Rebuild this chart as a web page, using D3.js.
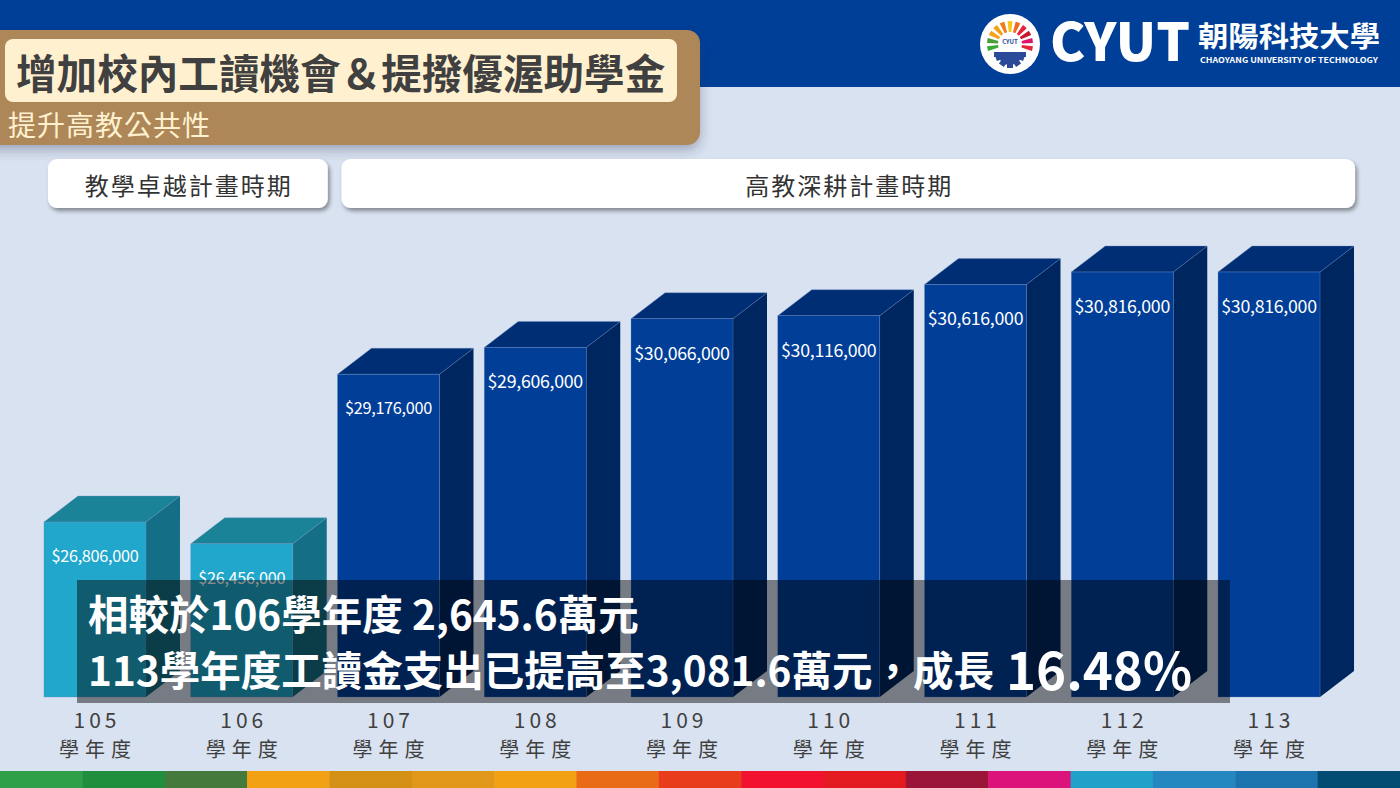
<!DOCTYPE html>
<html>
<head>
<meta charset="utf-8">
<script src="https://cdn.jsdelivr.net/npm/d3@7"></script>
<style>
    body { margin: 0; background: #d9e2f0; }
    #chart-area { width: 1400px; height: 788px; }
    text { font-family: "Noto Sans CJK TC", "Noto Sans", sans-serif; }
</style>
</head>
<body>
<div id="chart-area"></div>
<script>

// school years on the x axis
const years = ["105", "106", "107", "108", "109", "110", "111", "112", "113"];
// work-study spending per year (NT$)
const amounts = [26806000, 26456000, 29176000, 29606000, 30066000, 30116000, 30616000, 30816000, 30816000];
// which funding period each year belongs to
const periodOf = ["教學卓越計畫時期", "教學卓越計畫時期", "高教深耕計畫時期", "高教深耕計畫時期", "高教深耕計畫時期",
    "高教深耕計畫時期", "高教深耕計畫時期", "高教深耕計畫時期", "高教深耕計畫時期"];
const periods = ["教學卓越計畫時期", "高教深耕計畫時期"];
const yearSuffix = "學年度";

const titleText = "增加校內工讀機會＆提撥優渥助學金";
const subtitleText = "提升高教公共性";
const noteLine1 = "相較於106學年度 2,645.6萬元";
const noteLine2 = "113學年度工讀金支出已提高至3,081.6萬元，成長";
const noteGrowth = "16.48%";

const stripeColors = ['#2fa048', '#1f8f3e', '#447a3c', '#f2a114', '#d48f15', '#e0971a', '#f2a114', '#e96b16',
    '#e83c1c', '#f2112f', '#e31a1f', '#9b1538', '#dc137b', '#1fa1c9', '#2487bf', '#1b74ad', '#024c73'];


class WorkStudyVis {

    constructor(parentElement) {
        this.parentElement = parentElement;
        this.data = years.map((y, i) => ({year: y, value: amounts[i], period: periodOf[i]}));
        this.initVis();
    }

    initVis() {
        let vis = this;

        vis.width = 1400;
        vis.height = 788;

        vis.svg = d3.select("#" + vis.parentElement).append("svg")
            .attr("width", vis.width)
            .attr("height", vis.height);

        let defs = vis.svg.append("defs");
        defs.append("filter").attr("id", "boxShadow")
            .attr("x", "-10%").attr("y", "-30%").attr("width", "120%").attr("height", "170%")
            .append("feDropShadow")
            .attr("dx", 2).attr("dy", 3).attr("stdDeviation", 2)
            .attr("flood-color", "#000").attr("flood-opacity", 0.4);
        defs.append("filter").attr("id", "bigShadow")
            .attr("x", "-10%").attr("y", "-20%").attr("width", "120%").attr("height", "160%")
            .append("feDropShadow")
            .attr("dx", 0).attr("dy", 5).attr("stdDeviation", 6)
            .attr("flood-color", "#2a3550").attr("flood-opacity", 0.35);

        // background + top band
        vis.svg.append("rect").attr("width", vis.width).attr("height", vis.height).attr("fill", "#d9e2f0");
        vis.svg.append("rect").attr("width", vis.width).attr("height", 87).attr("fill", "#003f98");

        // scales
        vis.depth = {dx: 34, dy: 26};
        vis.baseY = 697;
        vis.x = d3.scaleBand()
            .domain(years)
            .range([21.6, 1342.4])
            .paddingInner(0.305)
            .paddingOuter(0.1525);
        vis.y = d3.scaleLinear()
            .domain([24000000, 32000000])
            .range([vis.baseY, vis.baseY - 8 * 62.35]);

        vis.front = d3.scaleOrdinal().domain(periods).range(["#20a7cb", "#003e98"]);
        vis.topCol = d3.scaleOrdinal().domain(periods).range(["#1a8398", "#002e74"]);
        vis.sideCol = d3.scaleOrdinal().domain(periods).range(["#146f86", "#00265f"]);

        vis.drawHeader();
        vis.drawLogo();
        vis.drawPeriods();
        vis.updateVis();
        vis.drawNote();

        // colour stripe at the bottom
        let sw = vis.width / stripeColors.length;
        vis.svg.append("g").selectAll("rect").data(stripeColors).enter().append("rect")
            .attr("x", (d, i) => i * sw).attr("y", 771)
            .attr("width", sw + 0.5).attr("height", 17)
            .attr("fill", d => d);
    }

    drawHeader() {
        let vis = this;
        let g = vis.svg.append("g");
        g.append("rect")
            .attr("x", -20).attr("y", 30).attr("width", 720).attr("height", 115).attr("rx", 13)
            .attr("fill", "#ad8759").attr("filter", "url(#bigShadow)");
        g.append("rect")
            .attr("x", 5).attr("y", 39).attr("width", 672).attr("height", 63).attr("rx", 8)
            .attr("fill", "#fff1cf");
        g.append("text").text(titleText)
            .attr("x", 16).attr("y", 71)
            .attr("dominant-baseline", "central")
            .attr("font-size", 40.6).attr("font-weight", "bold")
            .attr("fill", "#404040");
        g.append("text").text(subtitleText)
            .attr("x", 8).attr("y", 124)
            .attr("dominant-baseline", "central")
            .attr("font-size", 28).attr("letter-spacing", 1)
            .attr("fill", "#fff1cf");
    }

    drawLogo() {
        let vis = this;
        let cx = 1010, cy = 44;
        let g = vis.svg.append("g").attr("transform", "translate(" + cx + "," + cy + ")");
        g.append("circle").attr("r", 30).attr("fill", "#fff");

        // sun rays
        let rayColors = ['#3aa935', '#4c9f38', '#f6a21b', '#f2a114', '#ee7d1a', '#f9c51b', '#f06b1f',
            '#e5243b', '#c5192d', '#dd1367', '#e5243b'];
        let arc = d3.arc().innerRadius(12).outerRadius(23);
        let n = rayColors.length;
        let a0 = -Math.PI * 0.62, a1 = Math.PI * 0.62;
        let step = (a1 - a0) / n;
        g.selectAll(".ray").data(rayColors).enter().append("path")
            .attr("class", "ray")
            .attr("d", (d, i) => arc({startAngle: a0 + i * step + step * 0.2, endAngle: a0 + (i + 1) * step - step * 0.2}))
            .attr("fill", d => d);

        // gear
        let gear = g.append("g").attr("transform", "translate(0,9)");
        gear.append("path")
            .attr("d", d3.arc().innerRadius(0).outerRadius(12).startAngle(Math.PI / 2).endAngle(Math.PI * 1.5)())
            .attr("fill", "#2c4a9a");
        [-70, -35, 0, 35, 70].forEach(function (ang) {
            gear.append("rect")
                .attr("x", -3).attr("y", 9).attr("width", 6).attr("height", 6)
                .attr("transform", "rotate(" + ang + ")")
                .attr("fill", "#2c4a9a");
        });
        gear.append("rect").attr("x", -16).attr("y", -1).attr("width", 32).attr("height", 5).attr("fill", "#2c4a9a");
        g.append("text").text("CYUT")
            .attr("y", 0).attr("text-anchor", "middle")
            .attr("font-family", "Open Sans").attr("font-weight", "bold")
            .attr("font-size", 6).attr("fill", "#2c4a9a");

        vis.svg.append("text").text("CYUT")
            .attr("x", 1050).attr("y", 61)
            .attr("font-family", "Open Sans").attr("font-weight", 800)
            .attr("font-size", 52).attr("fill", "#fff")
            .attr("textLength", 140).attr("lengthAdjust", "spacingAndGlyphs");
        vis.svg.append("text").text("朝陽科技大學")
            .attr("x", 1198).attr("y", 47)
            .attr("font-size", 28).attr("font-weight", "bold").attr("fill", "#fff")
            .attr("textLength", 182).attr("lengthAdjust", "spacingAndGlyphs");
        vis.svg.append("text").text("CHAOYANG UNIVERSITY OF TECHNOLOGY")
            .attr("x", 1200).attr("y", 63)
            .attr("font-family", "Open Sans").attr("font-weight", "bold")
            .attr("font-size", 8).attr("fill", "#fff")
            .attr("textLength", 178).attr("lengthAdjust", "spacingAndGlyphs");
    }

    drawPeriods() {
        let vis = this;
        let spans = periods.map(function (p) {
            let ys = vis.data.filter(d => d.period === p).map(d => d.year);
            return {
                name: p,
                x0: vis.x(ys[0]) + 4,
                x1: vis.x(ys[ys.length - 1]) + vis.x.bandwidth() + vis.depth.dx + 1
            };
        });
        let box = vis.svg.append("g").selectAll("g").data(spans).enter().append("g");
        box.append("rect")
            .attr("x", d => d.x0).attr("y", 159)
            .attr("width", d => d.x1 - d.x0).attr("height", 49).attr("rx", 9)
            .attr("fill", "#fff").attr("filter", "url(#boxShadow)");
        box.append("text").text(d => d.name)
            .attr("x", d => (d.x0 + d.x1) / 2 + 1).attr("y", 184)
            .attr("text-anchor", "middle").attr("dominant-baseline", "central")
            .attr("font-size", 24).attr("letter-spacing", 2)
            .attr("fill", "#333");
    }

    updateVis() {
        let vis = this;
        let bw = vis.x.bandwidth(), dx = vis.depth.dx, dy = vis.depth.dy;

        let bars = vis.svg.append("g").selectAll(".bar").data(vis.data).enter().append("g")
            .attr("class", "bar")
            .attr("transform", d => "translate(" + vis.x(d.year) + ",0)");

        // right side face
        bars.append("path")
            .attr("d", function (d) {
                let t = vis.y(d.value);
                return "M" + bw + "," + t + "L" + (bw + dx) + "," + (t - dy) +
                    "L" + (bw + dx) + "," + (vis.baseY - dy) + "L" + bw + "," + vis.baseY + "Z";
            })
            .attr("fill", d => vis.sideCol(d.period));
        // top face
        bars.append("path")
            .attr("d", function (d) {
                let t = vis.y(d.value);
                return "M0," + t + "L" + dx + "," + (t - dy) + "L" + (bw + dx) + "," + (t - dy) + "L" + bw + "," + t + "Z";
            })
            .attr("fill", d => vis.topCol(d.period))
            .attr("stroke", "#6f8fc4").attr("stroke-width", 0.6).attr("stroke-opacity", 0.6);
        // front face
        bars.append("rect")
            .attr("x", 0).attr("y", d => vis.y(d.value))
            .attr("width", bw).attr("height", d => vis.baseY - vis.y(d.value))
            .attr("fill", d => vis.front(d.period))
            .attr("stroke", "#6f8fc4").attr("stroke-width", 0.6).attr("stroke-opacity", 0.6);

        // value labels
        bars.append("text")
            .text(d => "$" + d3.format(",")(d.value))
            .attr("x", bw / 2).attr("y", d => vis.y(d.value) + 33)
            .attr("text-anchor", "middle").attr("dominant-baseline", "central")
            .attr("font-family", "Open Sans")
            .attr("font-size", (d, i) => i < 3 ? 16.3 : 17.8)
            .attr("letter-spacing", -0.3)
            .attr("fill", "#fff");

        // category labels
        bars.append("text").text(d => d.year)
            .attr("x", bw / 2 + 2).attr("y", 719)
            .attr("text-anchor", "middle").attr("dominant-baseline", "central")
            .attr("font-family", "Noto Sans").attr("font-size", 21).attr("letter-spacing", 4)
            .attr("fill", "#404040");
        bars.append("text").text(yearSuffix)
            .attr("x", bw / 2 + 3).attr("y", 748)
            .attr("text-anchor", "middle").attr("dominant-baseline", "central")
            .attr("font-size", 20).attr("letter-spacing", 6)
            .attr("fill", "#404040");
    }

    drawNote() {
        let vis = this;
        let g = vis.svg.append("g");
        g.append("rect")
            .attr("x", 77).attr("y", 580).attr("width", 1153).attr("height", 123)
            .attr("fill", "#000").attr("fill-opacity", 0.45);
        g.append("text").text(noteLine1)
            .attr("x", 88).attr("y", 612)
            .attr("dominant-baseline", "central")
            .attr("font-size", 40.5).attr("font-weight", "bold").attr("fill", "#fff");
        let l2 = g.append("text")
            .attr("x", 88).attr("y", 668)
            .attr("dominant-baseline", "central")
            .attr("font-weight", "bold").attr("fill", "#fff");
        l2.append("tspan").text(noteLine2).attr("font-size", 40.5);
        l2.append("tspan").text(noteGrowth).attr("font-size", 51).attr("dx", 12);
    }
}

new WorkStudyVis("chart-area");
</script>
</body>
</html>
